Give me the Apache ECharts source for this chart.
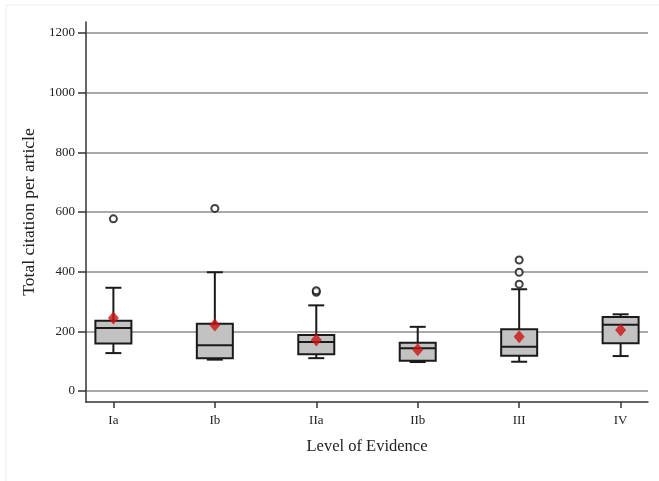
<!DOCTYPE html>
<html>
<head>
<meta charset="utf-8">
<script src="https://cdn.jsdelivr.net/npm/echarts@6/dist/echarts.min.js"></script>
<style>
html,body{margin:0;padding:0;background:#fff;}
#chart{width:659px;height:481px;}
</style>
</head>
<body>
<div id="chart"></div>
<script>
const categories = ['Ia', 'Ib', 'IIa', 'IIb', 'III', 'IV'];
const lowerWhisker = [127, 105, 110, 97, 98, 117];
const q1Values = [159, 110, 123, 101, 118, 160];
const medianValues = [211, 153, 164, 143, 148, 222];
const q3Values = [235, 225, 188, 162, 207, 248];
const upperWhisker = [346, 398, 287, 215, 341, 257];
const meanValues = [245, 221, 171, 138, 182, 204];
const outlierCategory = [0, 1, 2, 2, 4, 4, 4];
const outlierValues = [577, 612, 331, 336, 358, 398, 439];
const yTicks = [0, 200, 400, 600, 800, 1000, 1200];

const FONT = "'Times New Roman', 'Liberation Serif', serif";
const catIdx = categories.map((c, i) => i);

const boxData = categories.map((c, i) => [i, lowerWhisker[i], q1Values[i], medianValues[i], q3Values[i], upperWhisker[i]]);
const meanData = categories.map((c, i) => [i, meanValues[i]]);
const outlierData = outlierValues.map((v, i) => [outlierCategory[i], v]);

function renderBox(params, api) {
  const x = api.value(0);
  const pMin = api.coord([x, api.value(1)]);
  const pQ1 = api.coord([x, api.value(2)]);
  const pMed = api.coord([x, api.value(3)]);
  const pQ3 = api.coord([x, api.value(4)]);
  const pMax = api.coord([x, api.value(5)]);
  const cx = pMin[0];
  const hw = 18, cw = 8;
  const ls = { stroke: '#1a1a1a', lineWidth: 2 };
  return {
    type: 'group',
    children: [
      { type: 'line', shape: { x1: cx, y1: pMax[1], x2: cx, y2: pQ3[1] }, style: ls },
      { type: 'line', shape: { x1: cx, y1: pQ1[1], x2: cx, y2: pMin[1] }, style: ls },
      { type: 'line', shape: { x1: cx - cw, y1: pMax[1], x2: cx + cw, y2: pMax[1] }, style: ls },
      { type: 'line', shape: { x1: cx - cw, y1: pMin[1], x2: cx + cw, y2: pMin[1] }, style: ls },
      { type: 'rect', shape: { x: cx - hw, y: pQ3[1], width: 2 * hw, height: pQ1[1] - pQ3[1] },
        style: { fill: '#c2c2c2', stroke: '#1a1a1a', lineWidth: 2 } },
      { type: 'line', shape: { x1: cx - hw, y1: pMed[1], x2: cx + hw, y2: pMed[1] }, style: ls }
    ]
  };
}

const chart = echarts.init(document.getElementById('chart'), null, { renderer: 'canvas' });
chart.setOption({
  backgroundColor: '#ffffff',
  animation: false,
  graphic: [{
    type: 'rect', shape: { x: 6, y: 5, width: 700, height: 520 },
    style: { fill: 'none', stroke: '#e6eeee', lineWidth: 1 }, silent: true
  }],
  grid: { left: 86, right: 11, top: 22, bottom: 79 },
  xAxis: {
    type: 'value',
    min: -0.27,
    max: 5.27,
    name: 'Level of Evidence',
    nameLocation: 'middle',
    nameGap: 36,
    nameTextStyle: { fontFamily: FONT, fontSize: 16.5, color: '#222' },
    axisLine: { show: true, onZero: false, lineStyle: { color: '#333', width: 1.5 } },
    axisTick: { show: true, length: 6, customValues: catIdx, lineStyle: { color: '#333', width: 1.5 } },
    axisLabel: {
      customValues: catIdx,
      margin: 12,
      fontFamily: FONT, fontSize: 13, color: '#222',
      formatter: v => categories[Math.round(v)]
    },
    splitLine: { show: false }
  },
  yAxis: {
    type: 'value',
    min: -37,
    max: 1237,
    name: 'Total citation per article',
    nameLocation: 'middle',
    nameGap: 46,
    nameRotate: 90,
    nameTextStyle: { fontFamily: FONT, fontSize: 17.5, color: '#222' },
    axisLine: { show: true, onZero: false, lineStyle: { color: '#333', width: 1.5 } },
    axisTick: { show: true, length: 8, customValues: yTicks, lineStyle: { color: '#333', width: 1.5 } },
    axisLabel: { customValues: yTicks, margin: 11, fontFamily: FONT, fontSize: 13, color: '#222',
      formatter: v => String(Math.round(v)) },
    splitLine: { show: true, customValues: yTicks, lineStyle: { color: '#8c8c8c', width: 1.5 } }
  },
  series: [
    {
      type: 'custom',
      renderItem: renderBox,
      data: boxData,
      encode: { x: 0, y: [1, 2, 3, 4, 5] },
      z: 2
    },
    {
      type: 'scatter',
      data: outlierData,
      symbol: 'circle',
      symbolSize: 7,
      itemStyle: { color: '#ffffff', borderColor: '#111', borderWidth: 2 },
      z: 3
    },
    {
      type: 'scatter',
      data: meanData,
      symbol: 'diamond',
      symbolSize: [11, 13],
      itemStyle: { color: '#cc1111' },
      z: 4
    }
  ]
});
</script>
</body>
</html>
